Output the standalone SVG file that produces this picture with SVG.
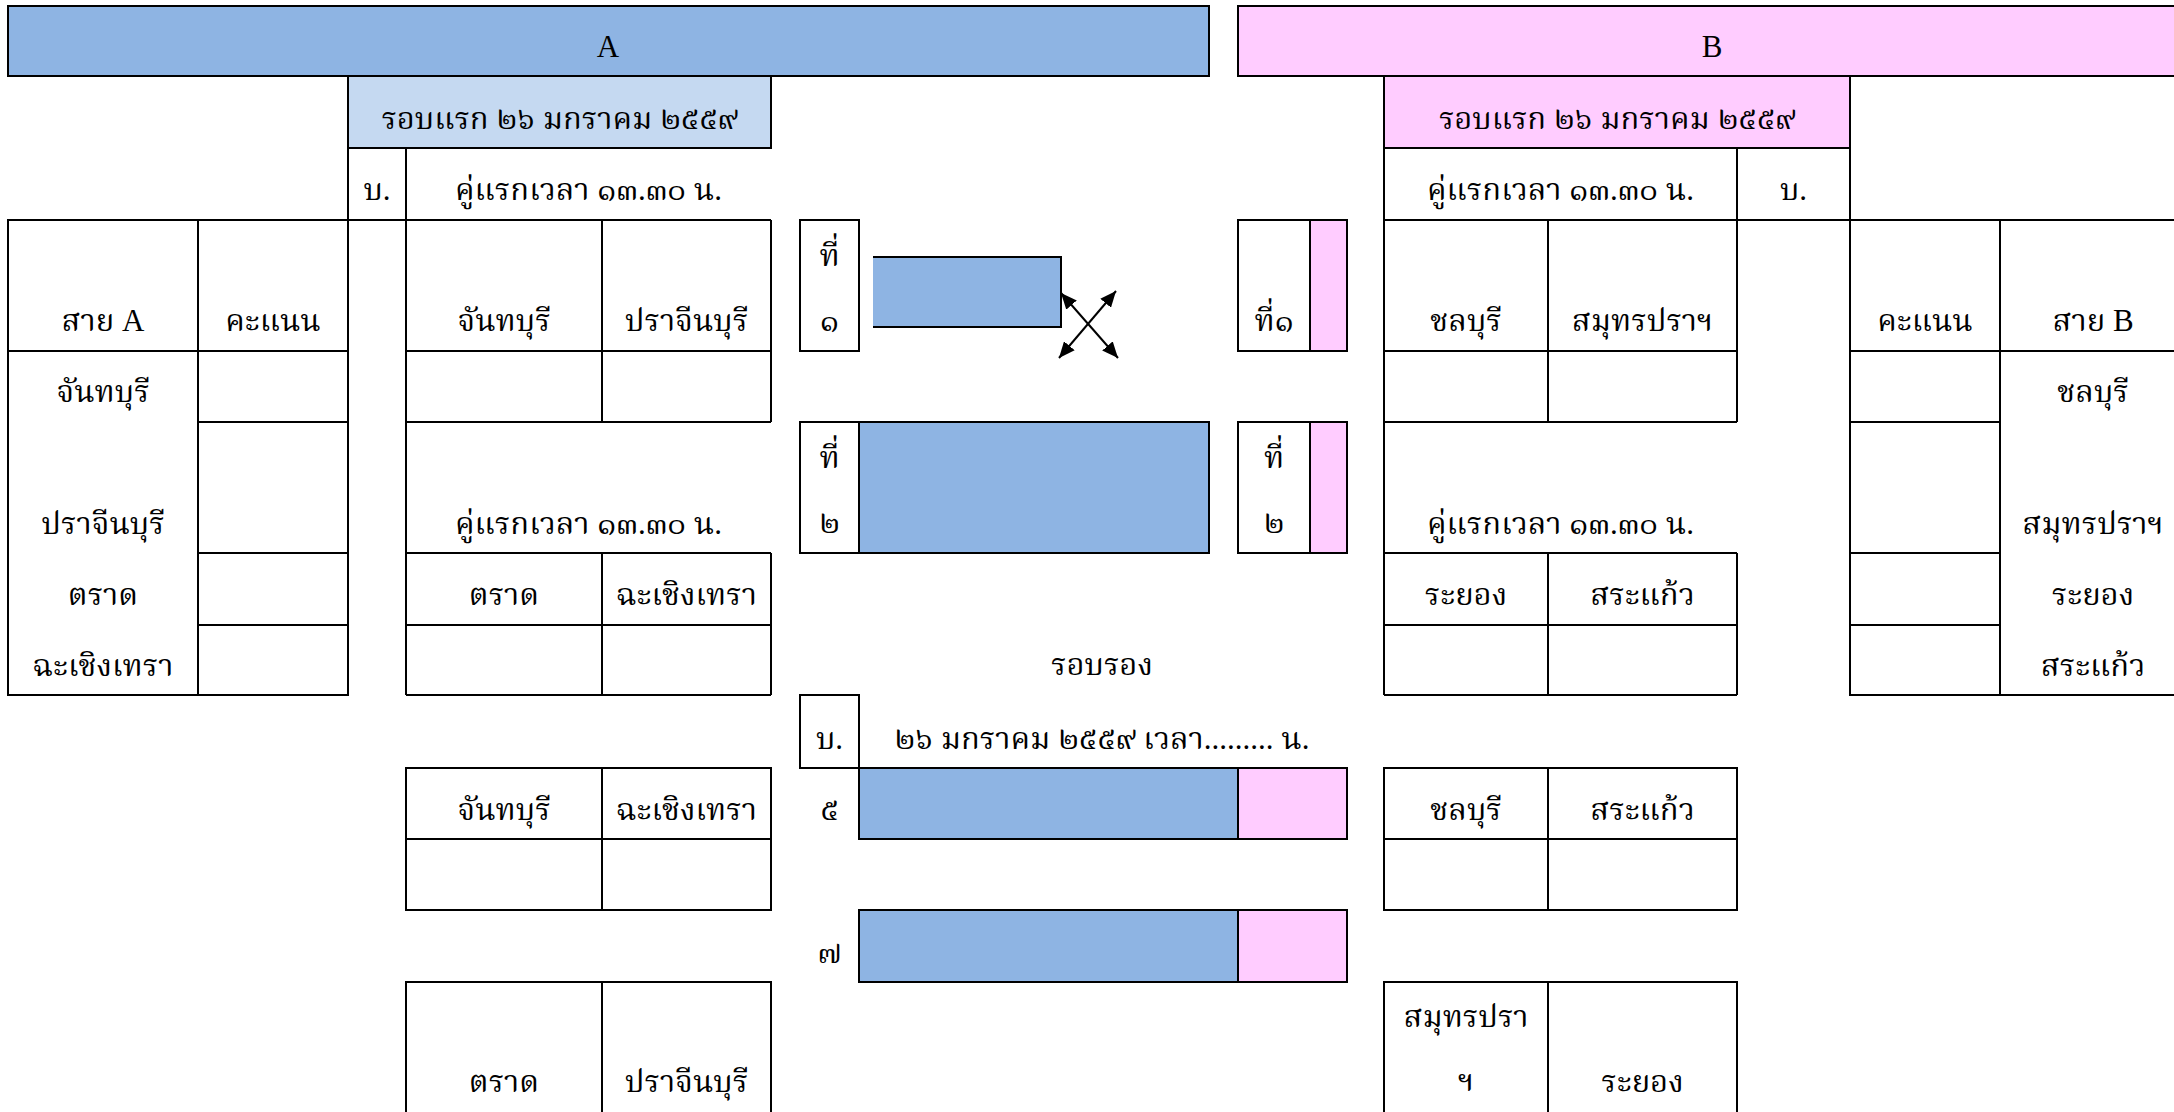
<svg xmlns="http://www.w3.org/2000/svg" width="2174" height="1112" viewBox="0 0 2174 1112">
<style>
.ln{stroke:#000;stroke-width:2;fill:none}
.bx{stroke:#000;stroke-width:2}
.blue{fill:#8EB4E3}
.lblue{fill:#C5D9F1}
.pink{fill:#FFCCFF}
.wh{fill:#FFFFFF}
.t{font-family:"Liberation Serif","Norasi","Noto Serif Thai","Noto Looped Thai",serif;font-size:31px;text-anchor:middle;fill:#000}
</style>
<defs>
<marker id="ah" viewBox="0 0 16 14" refX="16" refY="7" markerWidth="16" markerHeight="14" markerUnits="userSpaceOnUse" orient="auto-start-reverse">
<path d="M0,0 L16,7 L0,14 z" fill="#000"/>
</marker>
</defs>
<rect width="2174" height="1112" fill="#FFFFFF"/>

<g id="header-a">
<rect class="bx blue" x="8" y="6" width="1201" height="70"/>
<text class="t" x="608" y="57">A</text>
</g>
<g id="header-b">
<rect class="bx pink" x="1238" y="6" width="948" height="70"/>
<text class="t" x="1712" y="57">B</text>
</g>

<g id="a-round1">
<rect class="bx lblue" x="348" y="76" width="423" height="72"/>
<text class="t" x="559.5" y="129">รอบแรก ๒๖ มกราคม ๒๕๕๙</text>
<rect class="bx wh" x="348" y="148" width="58" height="72"/>
<text class="t" x="377" y="200">บ.</text>
<text class="t" x="588.5" y="200">คู่แรกเวลา ๑๓.๓๐ น.</text>
</g>

<g id="a-score">
<rect class="ln" x="8" y="220" width="340" height="475"/>
<path class="ln" d="M198,220 V695 M8,351 H348 M198,422 H348 M198,553 H348 M198,625 H348"/>
<text class="t" x="103" y="331">สาย A</text>
<text class="t" x="273" y="331">คะแนน</text>
<text class="t" x="103" y="402">จันทบุรี</text>
<text class="t" x="103" y="534">ปราจีนบุรี</text>
<text class="t" x="103" y="605">ตราด</text>
<text class="t" x="103" y="676">ฉะเชิงเทรา</text>
</g>

<g id="a-matches">
<path class="ln" d="M406,220 V695 M771,220 V422 M771,553 V695 M602,220 V422 M602,553 V695 M406,220 H771 M406,351 H771 M406,422 H771 M406,553 H771 M406,625 H771 M406,695 H771"/>
<text class="t" x="504" y="331">จันทบุรี</text>
<text class="t" x="686.5" y="331">ปราจีนบุรี</text>
<text class="t" x="588.5" y="534">คู่แรกเวลา ๑๓.๓๐ น.</text>
<text class="t" x="504" y="605">ตราด</text>
<text class="t" x="686.5" y="605">ฉะเชิงเทรา</text>
</g>

<g id="a-second1">
<rect class="ln" x="406" y="768" width="365" height="142"/>
<path class="ln" d="M602,768 V910 M406,839 H771"/>
<text class="t" x="504" y="820">จันทบุรี</text>
<text class="t" x="686.5" y="820">ฉะเชิงเทรา</text>
</g>
<g id="a-second2">
<rect class="ln" x="406" y="982" width="365" height="140"/>
<path class="ln" d="M602,982 V1122"/>
<text class="t" x="504" y="1092">ตราด</text>
<text class="t" x="686.5" y="1092">ปราจีนบุรี</text>
</g>

<g id="slot1-a">
<rect class="bx wh" x="800" y="220" width="59" height="131"/>
<text class="t" x="829.5" y="266">ที่</text>
<text class="t" x="829.5" y="331">๑</text>
</g>
<g id="slot1-a-bar">
<rect class="blue" x="873" y="257" width="188" height="70"/>
<path class="ln" d="M873,257 H1061 V327 H873"/>
</g>
<g id="slot2-a">
<rect class="bx blue" x="800" y="422" width="409" height="131"/>
<rect class="bx wh" x="800" y="422" width="59" height="131"/>
<text class="t" x="829.5" y="468">ที่</text>
<text class="t" x="829.5" y="533">๒</text>
</g>
<g id="slot1-b">
<rect class="bx wh" x="1238" y="220" width="109" height="131"/>
<rect class="bx pink" x="1310" y="220" width="37" height="131"/>
<text class="t" x="1274" y="331">ที่๑</text>
</g>
<g id="slot2-b">
<rect class="bx wh" x="1238" y="422" width="109" height="131"/>
<rect class="bx pink" x="1310" y="422" width="37" height="131"/>
<text class="t" x="1274" y="468">ที่</text>
<text class="t" x="1274" y="533">๒</text>
</g>

<g id="round2-title">
<text class="t" x="1102" y="675">รอบรอง</text>
</g>
<g id="round2-date">
<rect class="bx wh" x="800" y="695" width="59" height="73"/>
<text class="t" x="829.5" y="749">บ.</text>
<text class="t" x="1102" y="749">๒๖ มกราคม ๒๕๕๙ เวลา......... น.</text>
</g>
<g id="bar5">
<rect class="bx blue" x="859" y="768" width="379" height="71"/>
<rect class="bx pink" x="1238" y="768" width="109" height="71"/>
<text class="t" x="829.5" y="820">๕</text>
</g>
<g id="bar7">
<rect class="bx blue" x="859" y="910" width="379" height="72"/>
<rect class="bx pink" x="1238" y="910" width="109" height="72"/>
<text class="t" x="829.5" y="963">๗</text>
</g>

<g id="b-round1">
<rect class="bx pink" x="1384" y="76" width="466" height="72"/>
<text class="t" x="1617" y="129">รอบแรก ๒๖ มกราคม ๒๕๕๙</text>
<path class="ln" d="M1384,148 V220"/>
<rect class="bx wh" x="1737" y="148" width="113" height="72"/>
<text class="t" x="1560.5" y="200">คู่แรกเวลา ๑๓.๓๐ น.</text>
<text class="t" x="1793.5" y="200">บ.</text>
</g>

<g id="b-matches">
<path class="ln" d="M1384,220 V695 M1737,220 V422 M1737,553 V695 M1548,220 V422 M1548,553 V695 M1384,220 H1737 M1384,351 H1737 M1384,422 H1737 M1384,553 H1737 M1384,625 H1737 M1384,695 H1737"/>
<text class="t" x="1466" y="331">ชลบุรี</text>
<text class="t" x="1642.5" y="331">สมุทรปราฯ</text>
<text class="t" x="1560.5" y="534">คู่แรกเวลา ๑๓.๓๐ น.</text>
<text class="t" x="1466" y="605">ระยอง</text>
<text class="t" x="1642.5" y="605">สระแก้ว</text>
</g>

<g id="b-score">
<rect class="ln" x="1850" y="220" width="336" height="475"/>
<path class="ln" d="M2000,220 V695 M1850,351 H2186 M1850,422 H2000 M1850,553 H2000 M1850,625 H2000"/>
<text class="t" x="1925" y="331">คะแนน</text>
<text class="t" x="2093" y="331">สาย B</text>
<text class="t" x="2093" y="402">ชลบุรี</text>
<text class="t" x="2093" y="534">สมุทรปราฯ</text>
<text class="t" x="2093" y="605">ระยอง</text>
<text class="t" x="2093" y="676">สระแก้ว</text>
</g>

<g id="b-second1">
<rect class="ln" x="1384" y="768" width="353" height="142"/>
<path class="ln" d="M1548,768 V910 M1384,839 H1737"/>
<text class="t" x="1466" y="820">ชลบุรี</text>
<text class="t" x="1642.5" y="820">สระแก้ว</text>
</g>
<g id="b-second2">
<rect class="ln" x="1384" y="982" width="353" height="140"/>
<path class="ln" d="M1548,982 V1122"/>
<text class="t" x="1466" y="1027">สมุทรปรา</text>
<text class="t" x="1466" y="1091">ฯ</text>
<text class="t" x="1642.5" y="1092">ระยอง</text>
</g>

<g id="connectors">
<line class="ln" x1="1061" y1="293" x2="1118" y2="358" marker-start="url(#ah)" marker-end="url(#ah)"/>
<line class="ln" x1="1059" y1="358" x2="1116" y2="291" marker-start="url(#ah)" marker-end="url(#ah)"/>
</g>
</svg>
